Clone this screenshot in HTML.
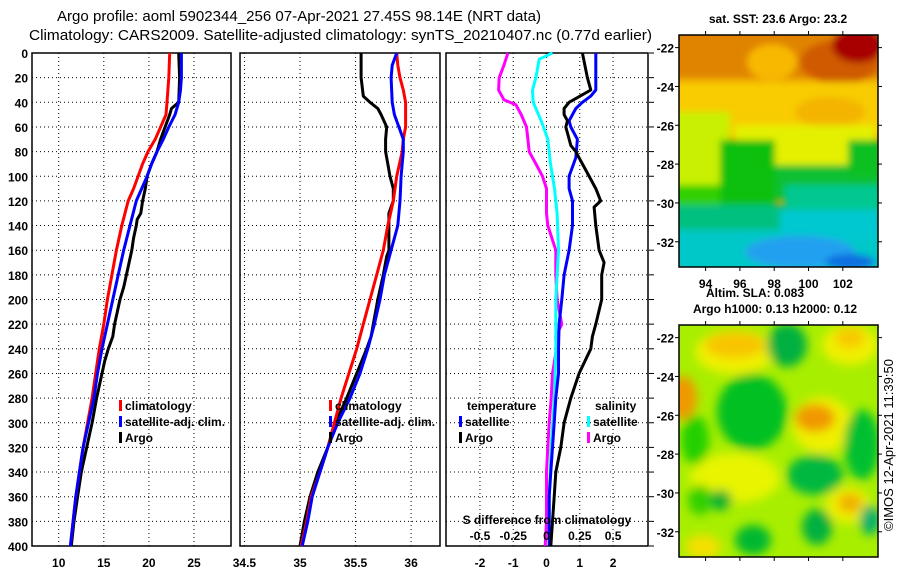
<!DOCTYPE html>
<html><head><meta charset="utf-8"><style>
html,body{margin:0;padding:0;background:#fff;}
svg{display:block;font-family:"Liberation Sans",Arial,sans-serif;}
.t{font-size:12px;font-weight:bold;fill:#000;}
</style></head><body>
<svg id="fig" width="900" height="580" viewBox="0 0 900 580">
<defs>
<filter id="bl" x="-20%" y="-20%" width="140%" height="140%"><feGaussianBlur stdDeviation="3.5"/></filter>
<filter id="bl2" x="-20%" y="-20%" width="140%" height="140%"><feGaussianBlur stdDeviation="5"/></filter>
<clipPath id="c1"><rect x="679" y="35" width="199" height="232"/></clipPath>
<clipPath id="c2"><rect x="679" y="325" width="199" height="232"/></clipPath>
</defs>
<text x="57" y="21" font-size="15" textLength="484" lengthAdjust="spacingAndGlyphs">Argo profile: aoml 5902344_256 07-Apr-2021 27.45S 98.14E (NRT data)</text>
<text x="29" y="40" font-size="15" textLength="623" lengthAdjust="spacingAndGlyphs">Climatology: CARS2009. Satellite-adjusted climatology: synTS_20210407.nc (0.77d earlier)</text>

<g id="map1">
<g clip-path="url(#c1)">
<rect x="679" y="35" width="199" height="232" fill="#f0a400"/>
<g filter="url(#bl)">
<rect x="670" y="28" width="220" height="50" fill="#e08400"/>
<ellipse cx="840" cy="62" rx="40" ry="22" fill="#d05a00"/>
<ellipse cx="858" cy="45" rx="26" ry="18" fill="#a80000"/>
<ellipse cx="772" cy="62" rx="25" ry="18" fill="#f8b800"/>
<rect x="670" y="82" width="220" height="55" fill="#f8cc00"/>
<ellipse cx="830" cy="112" rx="35" ry="15" fill="#f4b400"/>
<rect x="670" y="112" width="60" height="95" fill="#c8f000"/>
<rect x="735" y="125" width="140" height="40" fill="#e4f000"/>
<rect x="720" y="140" width="55" height="90" fill="#10c010"/>
<rect x="775" y="165" width="110" height="35" fill="#10c030"/>
<rect x="848" y="140" width="35" height="35" fill="#10c020"/>
<rect x="670" y="185" width="50" height="30" fill="#30d000"/>
<rect x="670" y="205" width="220" height="35" fill="#00c080"/>
<rect x="785" y="185" width="100" height="30" fill="#00c890"/>
<rect x="670" y="230" width="220" height="45" fill="#00c8c8"/>
<rect x="780" y="210" width="100" height="30" fill="#00c8d0"/>
<ellipse cx="800" cy="252" rx="55" ry="16" fill="#20a0f0"/>
<ellipse cx="850" cy="262" rx="25" ry="8" fill="#1070e0"/>
</g>
</g>
<rect x="679" y="35" width="199" height="232" fill="none" stroke="#000" stroke-width="1.5"/>
<text x="778" y="23" class="t" text-anchor="middle">sat. SST: 23.6 Argo: 23.2</text>
</g>

<g id="map2">
<g clip-path="url(#c2)">
<rect x="679" y="325" width="199" height="232" fill="#a8ee00"/>
<g filter="url(#bl2)">
<ellipse cx="735" cy="352" rx="40" ry="22" fill="#f0f000"/>
<ellipse cx="735" cy="345" rx="30" ry="13" fill="#f8c400"/>
<ellipse cx="850" cy="345" rx="28" ry="20" fill="#f0f000"/>
<ellipse cx="850" cy="338" rx="15" ry="10" fill="#f8c800"/>
<ellipse cx="787" cy="345" rx="20" ry="22" fill="#00b040"/>
<ellipse cx="683" cy="398" rx="14" ry="22" fill="#f09800"/>
<ellipse cx="752" cy="412" rx="35" ry="38" fill="#00c020"/>
<ellipse cx="822" cy="425" rx="30" ry="28" fill="#f0f000"/>
<ellipse cx="815" cy="418" rx="20" ry="14" fill="#f09800"/>
<ellipse cx="862" cy="445" rx="18" ry="35" fill="#00c030"/>
<ellipse cx="815" cy="475" rx="28" ry="20" fill="#00b840"/>
<ellipse cx="735" cy="478" rx="45" ry="25" fill="#e8f400"/>
<ellipse cx="720" cy="500" rx="12" ry="10" fill="#00b030"/>
<ellipse cx="848" cy="505" rx="22" ry="18" fill="#f0f000"/>
<ellipse cx="850" cy="503" rx="12" ry="10" fill="#f0b000"/>
<ellipse cx="817" cy="527" rx="15" ry="18" fill="#00b040"/>
<ellipse cx="753" cy="540" rx="18" ry="15" fill="#00b830"/>
<ellipse cx="703" cy="547" rx="18" ry="12" fill="#f4e000"/>
<ellipse cx="870" cy="520" rx="10" ry="15" fill="#00b070"/>
<ellipse cx="695" cy="440" rx="14" ry="25" fill="#20d000"/>
<ellipse cx="700" cy="500" rx="12" ry="15" fill="#30d000"/>
</g>
</g>
<rect x="679" y="325" width="199" height="232" fill="none" stroke="#000" stroke-width="1.5"/>
<text x="755" y="297" class="t" text-anchor="middle">Altim. SLA: 0.083</text>
<text x="775" y="313" class="t" text-anchor="middle">Argo h1000: 0.13 h2000: 0.12</text>
</g>
<text transform="translate(893,445) rotate(-90)" font-size="13" text-anchor="middle">©IMOS 12-Apr-2021 11:39:50</text>
<g id="plots"></g>
</svg>
<script>
// ---- data (depth in m) ----
const depthTicks=[0,20,40,60,80,100,120,140,160,180,200,220,240,260,280,300,320,340,360,380,400];
const tempTicks=[10,15,20,25];
const salTicks=[34.5,35,35.5,36];
const diffTicks=[-2,-1,0,1,2];
const diffSalLabels=["-0.5","-0.25","0","0.25","0.5"];
const lonTicks=[94,96,98,100,102];
const latTicks=[-22,-24,-26,-28,-30,-32];

const tClimD=[0,20,40,50,60,70,80,90,100,110,120,140,160,180,200,220,240,260,280,300,320,340,360,380,400];
const tClim=[22.3,22.2,22.0,21.9,21.3,20.7,19.9,19.3,18.8,18.3,17.7,17.0,16.4,15.9,15.4,15.0,14.5,14.1,13.7,13.2,12.7,12.3,11.9,11.6,11.3];
const tSatD=[0,20,30,40,50,60,70,80,90,100,110,120,140,160,180,200,220,240,260,280,300,320,340,360,380,400];
const tSat=[23.6,23.6,23.5,23.3,22.9,22.2,21.6,20.9,20.3,19.8,19.2,18.6,17.9,17.2,16.6,16.0,15.4,14.8,14.3,13.9,13.3,12.7,12.3,11.9,11.6,11.3];
const tArgoD=[0,20,40,45,50,60,70,80,90,100,110,120,130,135,140,150,160,170,180,190,200,220,230,240,250,260,280,300,320,340,360,380,400];
const tArgo=[23.3,23.4,23.3,22.5,22.3,21.8,21.3,20.9,20.3,19.8,19.6,19.3,19.1,18.7,18.6,18.3,18.1,17.8,17.5,17.2,16.8,16.2,16.0,15.5,15.1,14.8,14.2,13.7,13.1,12.5,12.1,11.7,11.4];

const sClimD=[0,10,20,30,40,60,70,80,100,120,140,160,180,200,220,240,260,280,300,320,340,360,380,400];
const sClim=[35.87,35.88,35.90,35.93,35.95,35.95,35.93,35.92,35.87,35.84,35.79,35.75,35.69,35.63,35.57,35.51,35.44,35.37,35.31,35.25,35.18,35.10,35.06,35.01];
const sSatD=[0,10,20,40,50,60,70,80,100,120,140,160,180,200,220,240,260,280,300,320,340,360,380,400];
const sSat=[35.87,35.83,35.82,35.83,35.85,35.89,35.93,35.93,35.91,35.90,35.88,35.82,35.76,35.72,35.67,35.61,35.54,35.45,35.34,35.25,35.18,35.11,35.07,35.02];
const sArgoD=[0,20,35,40,45,50,60,70,80,90,100,110,120,130,140,160,165,180,200,220,230,240,260,280,300,320,340,360,380,400];
const sArgo=[35.55,35.55,35.57,35.63,35.70,35.73,35.78,35.77,35.77,35.79,35.81,35.84,35.84,35.80,35.80,35.80,35.78,35.75,35.70,35.66,35.64,35.60,35.51,35.42,35.32,35.25,35.16,35.09,35.04,35.00];

const dTSatD=[0,30,35,40,45,55,60,70,85,100,110,120,140,160,180,200,220,240,260,280,300,320,340,360,380,400];
const dTSat=[1.48,1.48,1.33,1.08,0.88,0.68,0.73,0.93,0.88,0.68,0.68,0.78,0.78,0.68,0.53,0.46,0.38,0.36,0.36,0.28,0.23,0.18,0.13,0.08,0.08,0.08];
const dTArgoD=[0,20,30,40,45,50,55,60,65,75,80,85,95,110,120,125,140,160,170,180,200,220,230,240,260,280,300,320,340,360,380,400];
const dTArgo=[1.08,1.23,1.33,0.68,0.53,0.53,0.63,0.58,0.63,0.73,0.88,0.98,1.18,1.48,1.63,1.43,1.48,1.58,1.73,1.66,1.66,1.48,1.38,1.33,0.98,0.73,0.53,0.43,0.28,0.23,0.18,0.13];
const dSSatD=[0,5,20,30,40,55,70,90,110,130,160,200,240,280,320,360,400];
const dSSat=[0.045,-0.055,-0.08,-0.105,-0.10,-0.04,0.01,0.03,0.06,0.08,0.09,0.07,0.07,0.06,0.035,0.02,0.02];
const dSArgoD=[0,10,20,30,38,42,50,60,70,80,90,100,110,120,130,140,160,180,200,220,230,240,260,280,300,320,340,360,380,400];
const dSArgo=[-0.29,-0.32,-0.355,-0.36,-0.32,-0.23,-0.19,-0.15,-0.14,-0.13,-0.08,-0.03,0,0,0,0.01,0.07,0.07,0.08,0.115,0.07,0.075,0.045,0.035,0.02,0.01,0,0,0,-0.01];

const NS="http://www.w3.org/2000/svg";
const root=document.getElementById('plots');
function mk(tag,attrs,parent){const e=document.createElementNS(NS,tag);for(const k in attrs)e.setAttribute(k,attrs[k]);(parent||root).appendChild(e);return e;}
const Y0=53,Y1=546;
function yD(d){return Y0+(d/400)*(Y1-Y0);}
function lin(d0,d1,r0,r1){return v=>r0+(v-d0)/(d1-d0)*(r1-r0);}

const panels=[
 {x0:32,x1:231,sx:lin(7.04,29.1,32,231),ticks:tempTicks,lab:tempTicks.map(String),name:'temperature'},
 {x0:240,x1:440,sx:lin(34.46,36.26,240,440),ticks:salTicks,lab:salTicks.map(String),name:'salinity'},
 {x0:446,x1:648,sx:lin(-3.02,3.05,446,648),ticks:diffTicks,lab:diffTicks.map(String),name:'difference'}
];
panels.forEach((p,i)=>{
 const g=mk('g',{});
 
 
 depthTicks.forEach(d=>{
  const l=mk('line',{x1:p.x0,x2:p.x1,y1:yD(d),y2:yD(d),stroke:'#000','stroke-width':1,'stroke-dasharray':'1,3'},g);
  
  
 });
 p.ticks.forEach((t,j)=>{
  const x=p.sx(t);
  const l=mk('line',{x1:x,x2:x,y1:Y0,y2:Y1,stroke:'#000','stroke-width':1,'stroke-dasharray':'1,3'},g);
  
  
  const tx=mk('text',{x:x,y:567,'text-anchor':'middle',class:'t'},g);
  tx.textContent=p.lab[j];
  
  
 });
 const fr=mk('rect',{x:p.x0,y:Y0,width:p.x1-p.x0,height:Y1-Y0,fill:'none',stroke:'#000','stroke-width':1.5},g);
 
 
 p.g=g;
});
depthTicks.forEach(d=>{
 const t=mk('text',{x:28,y:yD(d)+5,'text-anchor':'end',class:'t'});
 t.textContent=String(d);
 
 
 const tk=mk('line',{x1:649,x2:654,y1:yD(d),y2:yD(d),stroke:'#000','stroke-width':1});
 
 
});
diffSalLabels.forEach((s,j)=>{
 const t=mk('text',{x:panels[2].sx(diffTicks[j]),y:540,'text-anchor':'middle',class:'t'});
 t.textContent=s;
 
 
});
const sdt=mk('text',{x:547,y:524,'text-anchor':'middle',class:'t'});
sdt.textContent='S difference from climatology';



function series(p,D,V,color,name,scale){
 const pts=D.map((d,k)=>p.sx(V[k]*(scale||1)).toFixed(1)+','+yD(d).toFixed(1)).join(' ');
 const pl=mk('polyline',{points:pts,fill:'none',stroke:color,'stroke-width':3,'stroke-linejoin':'round'},p.g);
 
 
}
series(panels[0],tArgoD,tArgo,'#000','temp-argo-line');
series(panels[0],tClimD,tClim,'#ff0000','temp-climatology-line');
series(panels[0],tSatD,tSat,'#0000ff','temp-satellite-line');
series(panels[1],sArgoD,sArgo,'#000','sal-argo-line');
series(panels[1],sClimD,sClim,'#ff0000','sal-climatology-line');
series(panels[1],sSatD,sSat,'#0000ff','sal-satellite-line');
series(panels[2],dSArgoD,dSArgo,'#ff00ff','sdiff-argo-line',4);
series(panels[2],dSSatD,dSSat,'#00ffff','sdiff-satellite-line',4);
series(panels[2],dTSatD,dTSat,'#0000ff','tdiff-satellite-line');
series(panels[2],dTArgoD,dTArgo,'#000','tdiff-argo-line');

function legend(x,y,color,label,name){
 if(color){const r=mk('rect',{x:x,y:y-10,width:3,height:11,fill:color});
  
  }
 const t=mk('text',{x:x+6,y:y,class:'t'});
 t.textContent=label;
 
 
}
legend(119,410,'#ff0000','climatology','legend-climatology');
legend(119,426,'#0000ff','satellite-adj. clim.','legend-satellite-adj');
legend(119,442,'#000','Argo','legend-argo');
legend(329,410,'#ff0000','climatology','legend2-climatology');
legend(329,426,'#0000ff','satellite-adj. clim.','legend2-satellite-adj');
legend(329,442,'#000','Argo','legend2-argo');
legend(461,410,null,'temperature','legend-temperature-header');
legend(459,426,'#0000ff','satellite','legend-temp-satellite');
legend(459,442,'#000','Argo','legend-temp-argo');
legend(589,410,null,'salinity','legend-salinity-header');
legend(587,426,'#00ffff','satellite','legend-sal-satellite');
legend(587,442,'#ff00ff','Argo','legend-sal-argo');

// map axes
const lonX=lin(92.45,104.05,679,878);
function latY(top){return lin(-21.35,-33.3,top,top+232);}
[35,325].forEach((top,mi)=>{
 const ly=latY(top);
 latTicks.forEach(l=>{
  const t=mk('text',{x:674,y:ly(l)+5,'text-anchor':'end',class:'t'});
  t.textContent=String(l);
  
  
  mk('line',{x1:675,x2:679,y1:ly(l),y2:ly(l),stroke:'#000'});
  mk('line',{x1:878,x2:882,y1:ly(l),y2:ly(l),stroke:'#000'});
 });
 lonTicks.forEach(lo=>{
  mk('line',{x1:lonX(lo),x2:lonX(lo),y1:top-4,y2:top,stroke:'#000'});
  mk('line',{x1:lonX(lo),x2:lonX(lo),y1:top+232,y2:top+236,stroke:'#000'});
  if(mi===0){const t=mk('text',{x:lonX(lo),y:288,'text-anchor':'middle',class:'t'});
   t.textContent=String(lo);
   
   }
 });
});
</script>
</body></html>
